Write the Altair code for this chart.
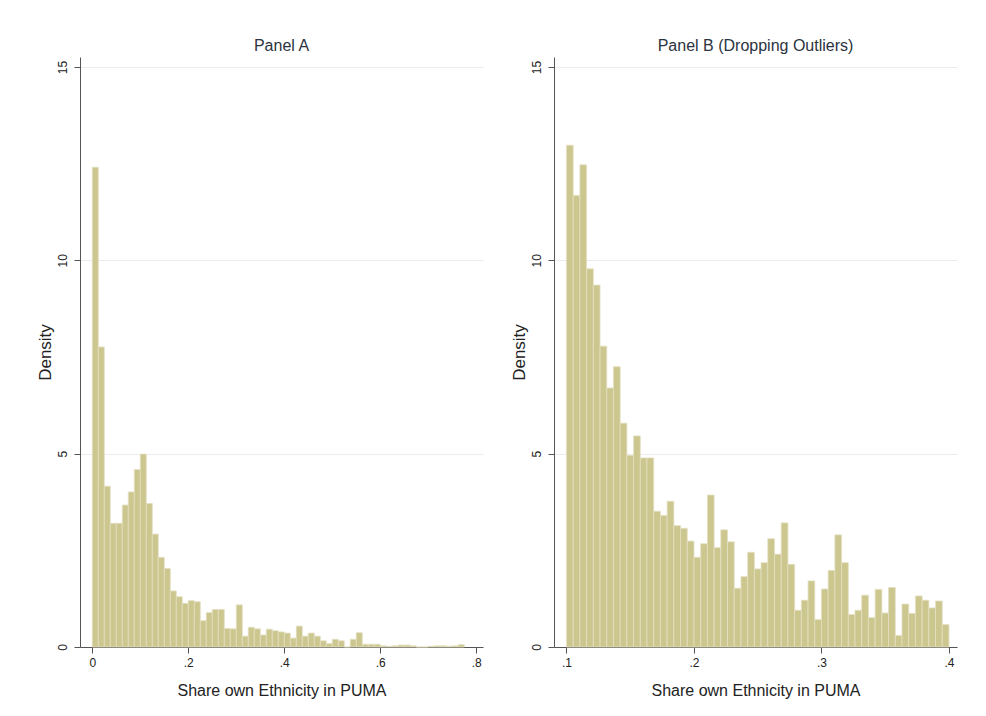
import altair as alt
import pandas as pd

# ---- data ----
A_HEIGHTS = [12.41, 7.76, 4.16, 3.20, 3.20, 3.67, 4.01, 4.59, 4.99, 3.71,
             2.92, 2.32, 2.03, 1.45, 1.30, 1.13, 1.20, 1.17, 0.68, 0.89,
             0.97, 0.97, 0.48, 0.47, 1.09, 0.28, 0.51, 0.47, 0.31, 0.46,
             0.42, 0.39, 0.36, 0.23, 0.54, 0.28, 0.36, 0.28, 0.16, 0.09,
             0.20, 0.16, 0.00, 0.20, 0.37, 0.07, 0.07, 0.07, 0.03, 0.02,
             0.03, 0.05, 0.05, 0.03, 0.00, 0.00, 0.02, 0.03, 0.03, 0.02,
             0.03, 0.06]
A_START = 0.0
A_WIDTH = 0.0125

B_HEIGHTS = [12.98, 11.68, 12.47, 9.78, 9.36, 7.78, 6.70, 7.25, 5.79, 4.96,
             5.46, 4.89, 4.89, 3.51, 3.40, 3.77, 3.14, 3.07, 2.74, 2.32,
             2.67, 3.93, 2.57, 3.03, 2.72, 1.52, 1.82, 2.45, 2.02, 2.18,
             2.80, 2.40, 3.21, 2.14, 0.95, 1.21, 1.71, 0.71, 1.50, 1.98,
             2.90, 2.18, 0.84, 0.95, 1.34, 0.76, 1.49, 0.88, 1.54, 0.30,
             1.11, 0.87, 1.32, 1.21, 1.01, 1.19, 0.58]
B_START = 0.1
B_WIDTH = 0.3 / 57

A_TICKS = [0, 0.2, 0.4, 0.6, 0.8]
B_TICKS = [0.1, 0.2, 0.3, 0.4]
Y_TICKS = [0, 5, 10, 15]

TITLE_A = "Panel A"
TITLE_B = "Panel B (Dropping Outliers)"
X_TITLE = "Share own Ethnicity in PUMA"
Y_TITLE = "Density"

FONT = "Liberation Sans"
FILL = "#CCC68F"
EDGE = "#E4E0C2"


def make_df(heights, start, width):
    return pd.DataFrame({
        "x0": [start + i * width for i in range(len(heights))],
        "x1": [start + (i + 1) * width for i in range(len(heights))],
        "density": heights,
        "base": [0.0] * len(heights),
    })


LABEL_EXPR = "datum.value == 0 ? '0' : replace(format(datum.value, '.1f'), '0.', '.')"


def panel(df, title, xdomain, xticks):
    return alt.Chart(
        df,
        title=alt.Title(title, fontSize=16, fontWeight="normal", color="#2B3340",
                        font=FONT, offset=3),
    ).mark_rect(fill=FILL, stroke=EDGE, strokeWidth=0.8).encode(
        x=alt.X("x0:Q",
                scale=alt.Scale(domain=xdomain, nice=False, zero=False),
                axis=alt.Axis(values=xticks, labelExpr=LABEL_EXPR, title=X_TITLE,
                              grid=False, labelPadding=4, titlePadding=14)),
        x2="x1:Q",
        y=alt.Y("density:Q",
                scale=alt.Scale(domain=[0, 15.26], nice=False),
                axis=alt.Axis(values=Y_TICKS, title=Y_TITLE, grid=True,
                              gridColor="#ECECEC", labelAngle=270,
                              labelAlign="center", labelBaseline="bottom",
                              labelPadding=5, titlePadding=2, titleFontSize=17)),
        y2="base:Q",
    ).properties(width=403, height=590)


chart_a = panel(make_df(A_HEIGHTS, A_START, A_WIDTH), TITLE_A, [-0.0256, 0.814], A_TICKS)
chart_b = panel(make_df(B_HEIGHTS, B_START, B_WIDTH), TITLE_B, [0.0902, 0.4063], B_TICKS)

chart = alt.hconcat(chart_a, chart_b, spacing=27).properties(
    padding={"left": 36, "top": 38, "right": 10, "bottom": 10},
    background="white",
).configure_view(stroke=None).configure_axis(
    domainColor="#555555", tickColor="#555555", tickSize=6,
    labelFont=FONT, labelFontSize=12, labelColor="#222222",
    titleFont=FONT, titleFontSize=16, titleFontWeight="normal", titleColor="#222222",
)

chart.save("out.html", embed_options={"renderer": "svg", "actions": False})
